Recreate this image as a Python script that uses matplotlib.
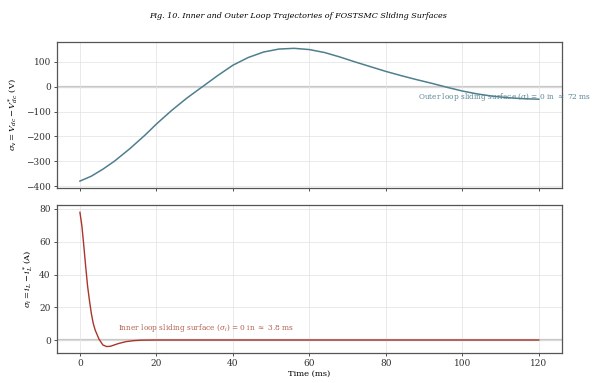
import numpy as np
import matplotlib
matplotlib.use('Agg')
import matplotlib.pyplot as plt

# ==== data ====
# outer loop sliding surface (V)
t_outer = [0, 3, 6, 9, 13, 17, 20, 24, 28, 32, 36, 40, 44, 48, 52, 56, 60, 64, 68, 72, 76, 80, 84, 88, 92, 96, 100, 104, 108, 112, 116, 120]
s_outer = [-380, -360, -332, -300, -250, -195, -150, -95, -45, 0, 45, 87, 118, 140, 152, 155, 150, 138, 120, 100, 81, 62, 45, 29, 14, -2, -17, -29, -38, -44, -48, -50]

# inner loop sliding surface (A)
t_inner = [0, 0.5, 1, 1.5, 2, 2.5, 3, 3.5, 4, 5, 6, 7, 8, 9, 10, 12, 14, 16, 20, 30, 60, 90, 120]
s_inner = [78, 70, 58, 45, 33, 24, 16, 10, 6, 0.5, -3, -4, -3.8, -3, -2.2, -1, -0.4, -0.1, 0, 0, 0, 0, 0]

title = 'Fig. 10. Inner and Outer Loop Trajectories of FOSTSMC Sliding Surfaces'
outer_note = r'Outer loop sliding surface ($\sigma$) = 0 in $\approx$ 72 ms'
inner_note = r'Inner loop sliding surface ($\sigma_i$) = 0 in $\approx$ 3.8 ms'

plt.rcParams['font.family'] = ['DejaVu Serif']
plt.rcParams['mathtext.fontset'] = 'dejavuserif'

fig = plt.figure(figsize=(5.96, 3.83), dpi=100)
ax1 = fig.add_axes([0.0956, 0.509, 0.847, 0.381])
ax2 = fig.add_axes([0.0956, 0.078, 0.847, 0.387])

fig.text(0.5, 0.957, title, ha='center', va='center', fontsize=5.8, style='italic')

# top panel
ax1.plot(t_outer, s_outer, color='#4f7f8e', lw=1.1)
ax1.axhline(0, color='#c8c8c8', lw=1.6, zorder=0)
ax1.text(88.5, -42, outer_note, fontsize=5.3, color='#5a8596', va='center', clip_on=False)
ax1.set_ylabel(r'$\sigma_v = V_{dc} - V_{dc}^{*}$ (V)', fontsize=6)
ax1.set_yticks([-400, -300, -200, -100, 0, 100])
ax1.set_xticks([0, 20, 40, 60, 80, 100, 120])
ax1.tick_params(labelbottom=False)

# bottom panel
ax2.plot(t_inner, s_inner, color='#a8362a', lw=1.0)
ax2.axhline(0, color='#c8c8c8', lw=1.6, zorder=0)
ax2.text(10, 7.5, inner_note, fontsize=5.3, color='#b0604f', va='center')
ax2.set_ylabel(r'$\sigma_i = i_L - i_L^{*}$ (A)', fontsize=6)
ax2.set_xlabel('Time (ms)', fontsize=6, labelpad=1)
ax2.set_yticks([0, 20, 40, 60, 80])
ax2.set_xticks([0, 20, 40, 60, 80, 100, 120])

for ax in (ax1, ax2):
    ax.set_xlim(-6, 126)
    ax.grid(True, color='#e2e2e2', lw=0.5)
    ax.set_axisbelow(True)
    ax.tick_params(labelsize=6.5, length=2.5, width=0.6, colors='#333333', pad=2)
    for sp in ax.spines.values():
        sp.set_color('#555555')
        sp.set_linewidth(0.9)

ax1.set_ylim(-408, 180)
ax2.set_ylim(-8, 82.5)

fig.savefig('out.png', dpi=100)
